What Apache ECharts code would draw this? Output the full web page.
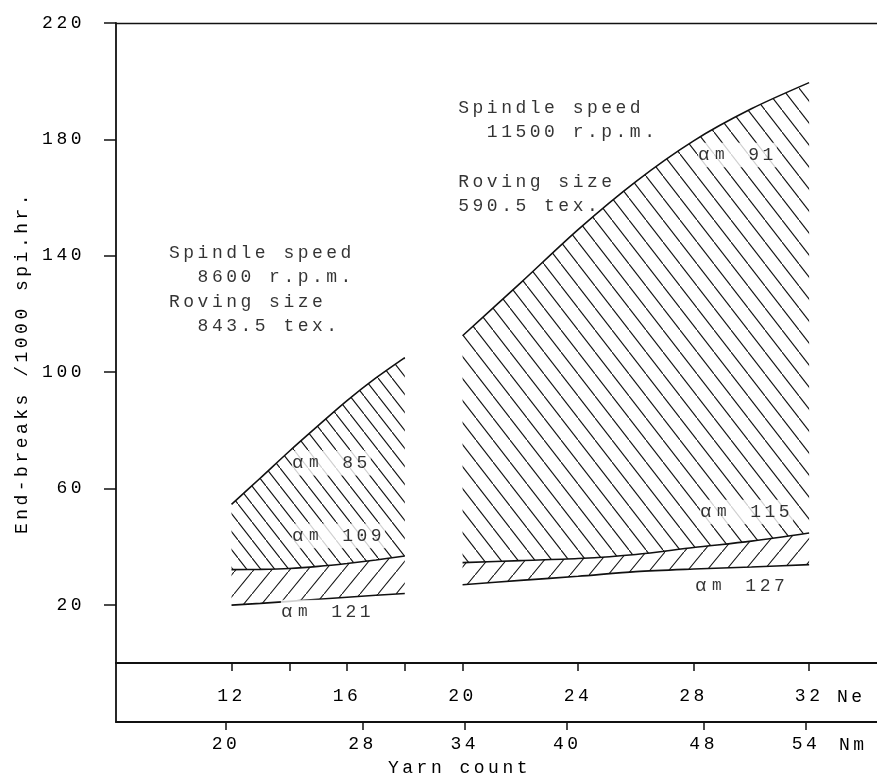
<!DOCTYPE html>
<html>
<head>
<meta charset="utf-8">
<script src="https://cdn.jsdelivr.net/npm/echarts@6/dist/echarts.min.js"></script>
<style>html,body{margin:0;background:#fff}#chart{width:877px;height:782px}</style>
</head>
<body>
<div id="chart"></div>
<script>
// yarn count (Ne) along each curve
const neLow = [12, 13, 14, 15, 16, 17, 18];
const neHigh = [20, 22, 24, 26, 28, 30, 32];

// end-breaks /1000 spi.hr., 8600 r.p.m., 843.5 tex roving
const am85 = [54.5, 63.6, 72.8, 81.6, 90.2, 98.0, 105.0];
const am109 = [32.1, 32.2, 32.5, 33.2, 34.2, 35.4, 36.8];
const am121 = [19.9, 20.5, 21.2, 21.9, 22.6, 23.3, 23.9];

// 11500 r.p.m., 590.5 tex roving
const am91 = [112.5, 130.6, 149.0, 165.5, 179.5, 190.5, 199.5];
const am115 = [34.5, 35.2, 35.9, 37.3, 39.7, 41.9, 44.7];
const am127 = [26.9, 28.4, 29.8, 31.4, 32.3, 33.0, 33.8];

const yTicks = [20, 60, 100, 140, 180, 220];
const neTicks = [12, 14, 16, 18, 20, 24, 28, 32];
const neLabels = [12, 16, 20, 24, 28, 32];
const nmLabels = [20, 28, 34, 40, 48, 54];
const NM_PER_NE = 1.6933;
const NE_MIN = 8, NE_MAX = 34.35;

// text blocks, anchored at top-left (Ne, end-breaks)
const blocks = [
  { value: [9.835, 145.2], note: 'Spindle speed\n  8600 r.p.m.\nRoving size\n  843.5 tex.' },
  { value: [19.85, 195.0], note: 'Spindle speed\n  11500 r.p.m.\n\nRoving size\n590.5 tex.' },
];
// twist factor labels, anchored at left / middle
const alphas = [
  { value: [14.09, 68.7], note: '85' },
  { value: [14.09, 43.7], note: '109' },
  { value: [13.71, 17.5], note: '121' },
  { value: [28.15, 174.6], note: '91' },
  { value: [28.22, 51.9], note: '115' },
  { value: [28.05, 26.5], note: '127' },
];

const INK = '#111';
const TEXT = '#000';
const FONT = 'Liberation Mono';
const PITCH = 14.3;

// typewriter spacing: every character gets a fixed slot
function mono(text) {
  return text.split('\n')
    .map(line => (line || ' ').split('').map(ch => '{c|' + ch + '}').join(''))
    .join('\n');
}
const base = { fontFamily: FONT, fontWeight: 'normal', align: 'left', lineHeight: 24.6, color: TEXT };
const rich = {
  c: { ...base, fontSize: 18, width: PITCH },
  al: { ...base, fontSize: 19, width: 17 },
  m: { ...base, fontSize: 16, width: PITCH },
  sp: { ...base, fontSize: 18, width: 19 },
};

function hatch(w, h, dir) {
  const c = document.createElement('canvas');
  c.width = w; c.height = h;
  const g = c.getContext('2d');
  g.strokeStyle = INK;
  g.lineWidth = 1.1;
  g.beginPath();
  const k = h / w;
  if (dir === '/') { g.moveTo(-1, h + k); g.lineTo(w + 1, -k); }
  else { g.moveTo(-1, -k); g.lineTo(w + 1, h + k); }
  g.stroke();
  return { image: c, repeat: 'repeat' };
}

// data goes in as [value, Ne] so that the stack is summed on the y dimension
const pairs = (xs, ys) => xs.map((x, i) => [ys[i], x]);
const diff = (a, b) => a.map((v, i) => +(v - b[i]).toFixed(2));

function band(stack, xs, ys, fill) {
  const s = {
    type: 'line', stack, data: pairs(xs, ys), encode: { x: 1, y: 0 },
    smooth: 0.3, symbol: 'none', silent: true,
    lineStyle: { color: INK, width: 1.6 },
  };
  if (fill) s.areaStyle = { color: fill, opacity: 1 };
  return s;
}

const chart = echarts.init(document.getElementById('chart'));
chart.setOption({
  animation: false,
  backgroundColor: '#fff',
  title: {
    text: mono('Yarn count'), left: 388, top: 756, padding: 0,
    textStyle: { rich },
  },
  grid: [
    { left: 116, right: 0, top: 23, height: 640 },
    { left: 116, right: 0, top: 663, height: 59 },
  ],
  xAxis: [
    {
      type: 'value', gridIndex: 0, min: NE_MIN, max: NE_MAX, position: 'bottom',
      axisLine: { onZero: false, lineStyle: { color: INK, width: 1.8 } },
      axisTick: { customValues: neTicks, length: 8, lineStyle: { color: INK, width: 1.5 } },
      axisLabel: { customValues: neLabels, margin: 21, formatter: v => mono(String(v)), rich },
      splitLine: { show: false },
      name: mono('Ne'), nameLocation: 'end', nameGap: -40,
      nameTextStyle: { rich, padding: [68, 0, 0, 0] },
    },
    {
      type: 'value', gridIndex: 0, min: NE_MIN, max: NE_MAX, position: 'top',
      axisLine: { onZero: false, lineStyle: { color: INK, width: 1.3 } },
      axisTick: { show: false }, axisLabel: { show: false }, splitLine: { show: false },
    },
    {
      type: 'value', gridIndex: 1, min: NE_MIN * NM_PER_NE, max: NE_MAX * NM_PER_NE, position: 'bottom',
      axisLine: { onZero: false, lineStyle: { color: INK, width: 1.8 } },
      axisTick: { customValues: nmLabels, length: 8, lineStyle: { color: INK, width: 1.5 } },
      axisLabel: { customValues: nmLabels, margin: 10, formatter: v => mono(String(v)), rich },
      splitLine: { show: false },
      name: mono('Nm'), nameLocation: 'end', nameGap: -38,
      nameTextStyle: { rich, padding: [46, 0, 0, 0] },
    },
  ],
  yAxis: [
    {
      type: 'value', gridIndex: 0, min: 0, max: 220,
      axisLine: { show: true, onZero: false, lineStyle: { color: INK, width: 1.8 } },
      axisTick: { customValues: yTicks, length: 12, lineStyle: { color: INK, width: 1.5 } },
      axisLabel: { customValues: yTicks, margin: 31, formatter: v => mono(String(v)), rich },
      splitLine: { show: false },
      name: mono('End-breaks /1000 spi.hr.'), nameLocation: 'middle', nameGap: 80,
      nameTextStyle: { rich, padding: [0, 39, 0, 0] },
    },
    {
      type: 'value', gridIndex: 1, min: 0, max: 1,
      axisLine: { show: true, onZero: false, lineStyle: { color: INK, width: 1.8 } },
      axisTick: { show: false }, axisLabel: { show: false }, splitLine: { show: false },
    },
  ],
  series: [
    band('low', neLow, am121),
    band('low', neLow, diff(am109, am121), hatch(18, 22, '/')),
    band('low', neLow, diff(am85, am109), hatch(14, 18, '\\')),
    band('high', neHigh, am127),
    band('high', neHigh, diff(am115, am127), hatch(19, 23, '/')),
    band('high', neHigh, diff(am91, am115), hatch(17, 22, '\\')),
    {
      type: 'scatter', data: blocks, symbolSize: 1, silent: true, clip: false, z: 5,
      itemStyle: { color: 'rgba(0,0,0,0)' },
      label: {
        show: true, position: 'inside', align: 'left', verticalAlign: 'top',
        formatter: p => mono(p.data.note), rich,
      },
    },
    {
      type: 'scatter', data: alphas, symbolSize: 1, silent: true, clip: false, z: 5,
      itemStyle: { color: 'rgba(0,0,0,0)' },
      label: {
        show: true, position: 'inside', align: 'left', verticalAlign: 'middle',
        backgroundColor: '#fff', padding: [0, 0, 0, 0],
        formatter: p => '{al|α}{m|m}{sp| }' + mono(p.data.note), rich,
      },
    },
  ],
});
</script>
</body>
</html>
